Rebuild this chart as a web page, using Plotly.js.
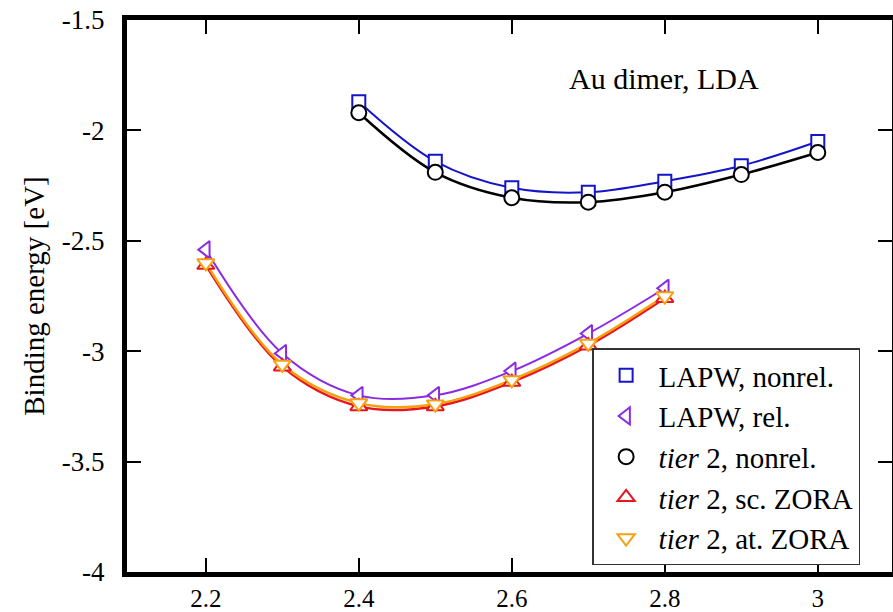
<!DOCTYPE html>
<html>
<head>
<meta charset="utf-8">
<script src="https://cdn.plot.ly/plotly-3.0.1.min.js"></script>
<style>html,body{margin:0;padding:0;background:#fff;}</style>
</head>
<body>
<div id="chart" style="width:893px;height:612px;"></div>
<script>
// Data
const distA = [2.4, 2.5, 2.6, 2.7, 2.8, 2.9, 3.0];
const lapwNonrel = [-1.87, -2.14, -2.26, -2.28, -2.23, -2.16, -2.05];
const tier2Nonrel = [-1.92, -2.19, -2.305, -2.325, -2.28, -2.20, -2.10];

const distB = [2.2, 2.3, 2.4, 2.5, 2.6, 2.7, 2.8];
const lapwRel = [-2.54, -3.01, -3.20, -3.20, -3.09, -2.92, -2.715];
const tier2ScZora = [-2.61, -3.07, -3.25, -3.25, -3.14, -2.975, -2.76];
const tier2AtZora = [-2.60, -3.06, -3.235, -3.24, -3.13, -2.965, -2.75];

const xTickVals = [2.2, 2.4, 2.6, 2.8, 3.0];
const xTickText = ["2.2", "2.4", "2.6", "2.8", "3"];
const yTickVals = [-1.5, -2, -2.5, -3, -3.5, -4];
const yTickText = ["-1.5", "-2", "-2.5", "-3", "-3.5", "-4"];

const seriesNames = ["LAPW, nonrel.", "LAPW, rel.", "<i>tier</i> 2, nonrel.", "<i>tier</i> 2, sc. ZORA", "<i>tier</i> 2, at. ZORA"];

const FAM = 'Liberation Serif';

const specs = [
  {x: distA, y: lapwNonrel, name: seriesNames[0], color: '#1414c8', symbol: 'square', size: 13, lw: 2},
  {x: distB, y: lapwRel, name: seriesNames[1], color: '#8a2be2', symbol: 'triangle-left', size: 15, lw: 2},
  {x: distA, y: tier2Nonrel, name: seriesNames[2], color: '#000000', symbol: 'circle', size: 15, lw: 2.5},
  {x: distB, y: tier2ScZora, name: seriesNames[3], color: '#e8141e', symbol: 'triangle-up', size: 15, lw: 2.5},
  {x: distB, y: tier2AtZora, name: seriesNames[4], color: '#f5a010', symbol: 'triangle-down', size: 15, lw: 2.5}
];

const traces = [];
const lineOrder = [2, 0, 1, 3, 4];
lineOrder.forEach(i => {
  const s = specs[i];
  traces.push({x: s.x, y: s.y, mode: 'lines', showlegend: false, hoverinfo: 'skip',
    line: {color: s.color, width: s.lw, shape: 'spline', smoothing: 1}});
});
specs.forEach(s => {
  traces.push({x: s.x, y: s.y, mode: 'markers', name: s.name,
    marker: {symbol: s.symbol, size: s.size, color: 'rgba(255,255,255,1)', line: {color: s.color, width: 2}}});
});

const layout = {
  width: 893, height: 612,
  margin: {l: 127, r: 1, t: 20, b: 40},
  paper_bgcolor: '#fff', plot_bgcolor: '#fff',
  showlegend: true,
  xaxis: {
    range: [2.097, 3.097], tickvals: xTickVals, ticktext: xTickText,
    ticks: 'inside', ticklen: 14, tickwidth: 2, tickcolor: '#000',
    showline: true, linewidth: 5, linecolor: '#000', mirror: 'ticks',
    showgrid: false, zeroline: false, ticklabelstandoff: 0,
    tickfont: {family: FAM, size: 25, color: '#000'}
  },
  yaxis: {
    range: [-4, -1.5], tickvals: yTickVals, ticktext: yTickText,
    ticks: 'inside', ticklen: 14, tickwidth: 2, tickcolor: '#000',
    showline: true, linewidth: 5, linecolor: '#000', mirror: 'ticks',
    showgrid: false, zeroline: false, ticklabelstandoff: 12,
    tickfont: {family: FAM, size: 27, color: '#000'},
    title: {text: 'Binding energy [eV]', font: {family: FAM, size: 29, color: '#000'}, standoff: 10}
  },
  legend: {
    x: 0.608, y: 0.012, xanchor: 'left', yanchor: 'bottom',
    bgcolor: '#fff', bordercolor: '#333', borderwidth: 1.5,
    font: {family: FAM, size: 29, color: '#000'},
    tracegroupgap: 0, itemwidth: 55
  },
  annotations: [{
    x: 2.799, y: -1.763, xref: 'x', yref: 'y', text: 'Au dimer, LDA', showarrow: false,
    font: {family: FAM, size: 30, color: '#000'}
  }]
};

Plotly.newPlot('chart', traces, layout, {displayModeBar: false});
</script>
</body>
</html>
